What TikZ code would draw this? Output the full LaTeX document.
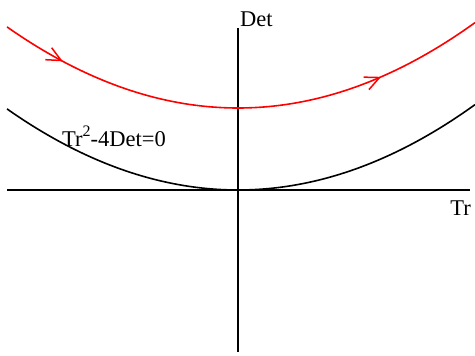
\documentclass[tikz,border=0pt]{standalone}
\usepackage{fontspec}
\setmainfont{Liberation Serif}
\usetikzlibrary{arrows.meta,decorations.markings}
\begin{document}
\begin{tikzpicture}[x=1pt,y=-1pt,
  axis/.style={line width=1.6pt,black},
  curve/.style={line width=1.6pt},
  lbl/.style={inner sep=0pt,font=\fontsize{22.5}{25}\selectfont},
  flow/.style={postaction={decorate},decoration={markings,
    mark=at position 0.13 with {\arrow{Straight Barb[angle=50:16pt,line width=1.5pt]}},
    mark=at position 0.785 with {\arrow{Straight Barb[angle=50:16pt,line width=1.5pt]}}}}]
\useasboundingbox (0,0) rectangle (475,356);
\coordinate (xl) at (7,190);
\coordinate (xr) at (470,190);
\coordinate (yt) at (238,28);
\coordinate (yb) at (238,352);
\draw[axis] (xl) -- (xr);
\draw[axis] (yb) -- (yt);
\draw[curve,black] plot[domain=7:475,samples=80,smooth] (\x,{190-0.152*((\x-238)/10)^2});
\draw[curve,red,flow] plot[domain=7:475,samples=80,smooth] (\x,{108-0.152*((\x-238)/10)^2});
\node[lbl,anchor=base west] (det) at (240,27) {Det};
\node[lbl,anchor=base east] (tr) at (471,215) {Tr};
\node[lbl,anchor=base west] (eq) at (62,146) {Tr\raisebox{0.42em}{\fontsize{16}{16}\selectfont 2}-4Det=0};
\end{tikzpicture}
\end{document}
